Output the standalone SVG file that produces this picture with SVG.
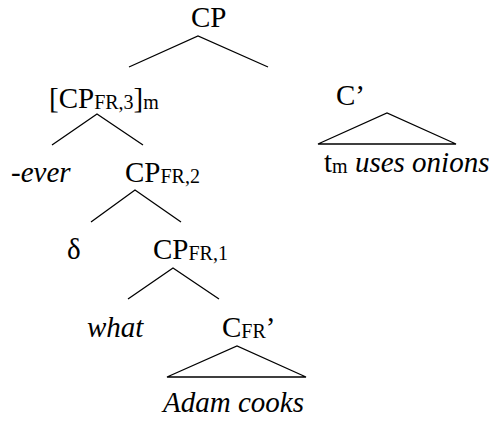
<svg xmlns="http://www.w3.org/2000/svg" width="489" height="421" viewBox="0 0 489 421">
  <style>
    text { font-size: 29px; fill: #000; }
    .it { font-style: italic; }
    .sub { font-size: 20px; }
    .edge { stroke: #000; stroke-width: 1.3; fill: none; }
  </style>
  <rect width="489" height="421" fill="#fff"/>
  <g id="connectors">
    <path class="edge" d="M129,67 L198,36 L268,67"/>
    <path class="edge" d="M318,144 L387,113 L456,144 Z"/>
    <path class="edge" d="M52,145 L97,114 L143,145"/>
    <path class="edge" d="M91,222 L135,190 L181,222"/>
    <path class="edge" d="M128,299 L173,268 L219,299"/>
    <path class="edge" d="M167,377 L237,346 L306,377 Z"/>
  </g>
  <g font-family="Liberation Serif, serif">
  <g id="cp"><text x="191" y="27">CP</text></g>
  <g id="cp-fr3"><text x="49" y="108">[CP<tspan class="sub" dy="1">FR,3</tspan><tspan dy="-1">]</tspan><tspan class="sub" dy="1">m</tspan></text></g>
  <g id="c-bar"><text x="336" y="105">C’</text></g>
  <g id="c-bar-yield"><text x="324" y="172">t<tspan class="sub" dy="1">m</tspan><tspan class="it" dy="-1"> uses onions</tspan></text></g>
  <g id="ever"><text class="it" x="11" y="182">-ever</text></g>
  <g id="cp-fr2"><text x="125" y="182">CP<tspan class="sub" dy="1">FR,2</tspan></text></g>
  <g id="delta"><text x="67" y="259">δ</text></g>
  <g id="cp-fr1"><text x="153" y="259">CP<tspan class="sub" dy="1">FR,1</tspan></text></g>
  <g id="what"><text class="it" x="87" y="337">what</text></g>
  <g id="c-fr-bar"><text x="222" y="337">C<tspan class="sub" dy="1">FR</tspan><tspan dy="-1">’</tspan></text></g>
  <g id="c-fr-yield"><text class="it" x="163" y="412">Adam cooks</text></g>
  </g>
</svg>
